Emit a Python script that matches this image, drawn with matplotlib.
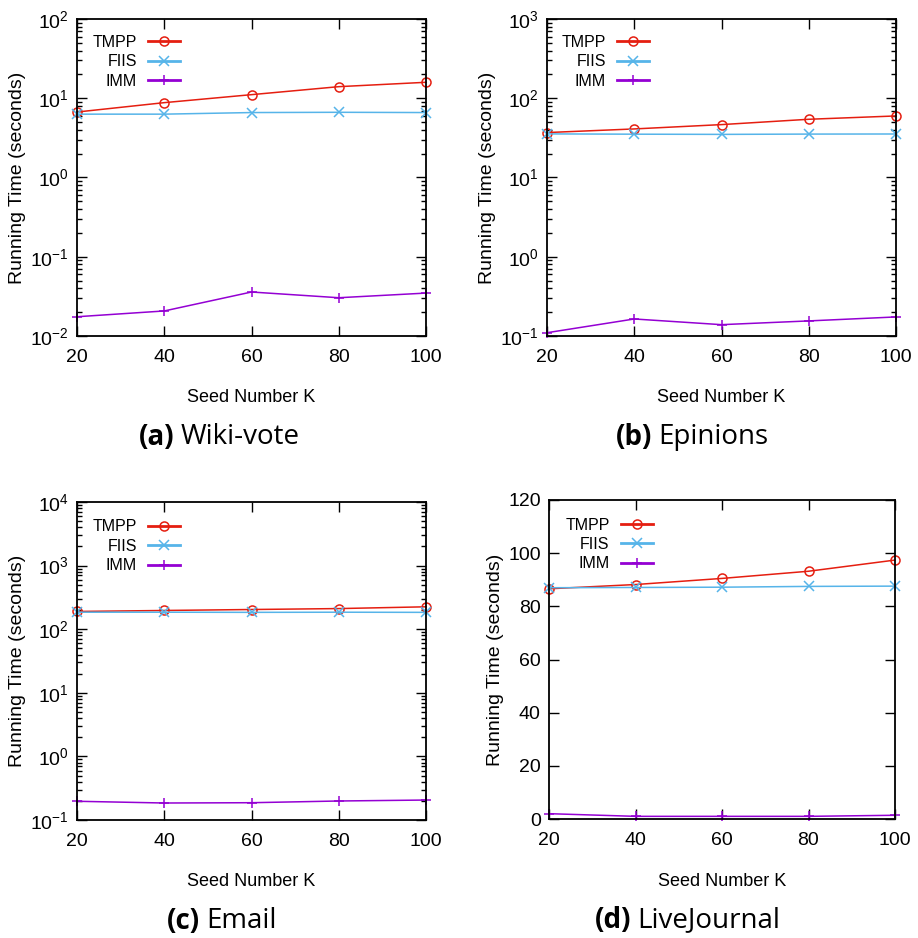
import numpy as np
import matplotlib
matplotlib.use("Agg")
import matplotlib.pyplot as plt
from matplotlib.ticker import LogLocator, NullFormatter, LogFormatterSciNotation

seeds = [20, 40, 60, 80, 100]
methods = ["TMPP", "FIIS", "IMM"]

wiki_tmpp = [6.7, 8.8, 11.1, 14.0, 15.9]
wiki_fiis = [6.3, 6.3, 6.6, 6.65, 6.6]
wiki_imm = [0.0175, 0.0207, 0.0359, 0.0304, 0.0348]

epin_tmpp = [36.9, 41.0, 46.5, 54.3, 59.8]
epin_fiis = [35.5, 35.2, 35.0, 35.3, 35.4]
epin_imm = [0.110, 0.164, 0.139, 0.155, 0.174]

email_tmpp = [190, 197, 204, 211, 225]
email_fiis = [185, 185, 184, 185, 184]
email_imm = [0.197, 0.185, 0.187, 0.199, 0.206]

lj_tmpp = [86.6, 88.2, 90.5, 93.2, 97.4]
lj_fiis = [87.0, 87.1, 87.2, 87.5, 87.6]
lj_imm = [2.0, 1.0, 1.0, 1.0, 1.4]

plt.rcParams['font.family'] = ['Liberation Sans', 'DejaVu Sans']
plt.rcParams['mathtext.default'] = 'regular'
plt.rcParams['axes.unicode_minus'] = False

W, H = 918, 938
fig = plt.figure(figsize=(W / 100, H / 100), dpi=100)

colors = {"TMPP": "#e51e10", "FIIS": "#56b4e9", "IMM": "#9400d3"}
markers = {"TMPP": "o", "FIIS": "x", "IMM": "+"}


def px_axes(l, t, r, b):
    return fig.add_axes([l / W, 1 - b / H, (r - l) / W, (b - t) / H])


def draw_panel(box, tmpp, fiis, imm, log, ylim, caption, cap_x, cap_y, xl_y, leg_anchor):
    ax = px_axes(*box)
    for name, vals in zip(methods, [tmpp, fiis, imm]):
        ax.plot(seeds, vals, color=colors[name], marker=markers[name], lw=1.1,
                ms=7 if name != "TMPP" else 6.5, mfc='none', mew=1.1, label=name, clip_on=False)
    ax.set_xlim(20, 100)
    ax.set_xticks(seeds)
    if log:
        ax.set_yscale('log')
        ax.yaxis.set_major_locator(LogLocator(base=10, numticks=20))
        ax.yaxis.set_major_formatter(LogFormatterSciNotation())
        ax.yaxis.set_minor_locator(LogLocator(base=10, subs=np.arange(2, 10), numticks=20))
        ax.yaxis.set_minor_formatter(NullFormatter())
    else:
        ax.set_yticks(np.arange(0, 121, 20))
    ax.set_ylim(*ylim)
    ax.tick_params(which='both', direction='in', top=True, right=True, width=1.0, labelsize=14, colors='black')
    ax.tick_params(which='major', length=7)
    ax.tick_params(which='minor', length=3.5)
    ax.tick_params(axis='x', which='major', pad=9)
    ax.tick_params(axis='y', which='major', pad=6)
    for s in ax.spines.values():
        s.set_linewidth(1.3)
    ax.set_ylabel("Running Time (seconds)", fontsize=14, labelpad=3)
    bx = box
    fig.text(((bx[0] + bx[2]) / 2) / W, 1 - xl_y / H, "Seed Number K", fontsize=13,
             ha='center', va='center')
    leg = ax.legend(loc='upper right', bbox_to_anchor=leg_anchor, frameon=False, markerfirst=False,
                    fontsize=11.5, handlelength=2.0, handletextpad=0.7, labelspacing=0.28,
                    borderpad=0, borderaxespad=0)
    for line in leg.get_lines():
        line.set_linewidth(2.0)

    # caption: bold tag and regular name, centred together
    tag, name = caption
    t1 = fig.text(0, 1 - cap_y / H, tag, fontsize=20, fontweight='bold', family='Open Sans',
                  ha='left', va='center')
    t2 = fig.text(0, 1 - cap_y / H, name, fontsize=20, family='Open Sans', ha='left', va='center')
    r = fig.canvas.get_renderer()
    w1 = t1.get_window_extent(r).width
    w2 = t2.get_window_extent(r).width
    gap = 6
    x0 = cap_x - (w1 + gap + w2) / 2
    t1.set_x(x0 / W)
    t2.set_x((x0 + w1 + gap) / W)
    return ax


draw_panel((77, 19, 426, 336), wiki_tmpp, wiki_fiis, wiki_imm, True, (1e-2, 1e2),
           ("(a)", "Wiki-vote"), 219, 437, 398, (0.295, 0.95))
draw_panel((547, 19, 896, 336), epin_tmpp, epin_fiis, epin_imm, True, (1e-1, 1e3),
           ("(b)", "Epinions"), 692, 437, 398, (0.292, 0.95))
draw_panel((77, 502, 426, 820), email_tmpp, email_fiis, email_imm, True, (1e-1, 1e4),
           ("(c)", "Email"), 222, 921, 881, (0.295, 0.945))
draw_panel((549, 500, 895, 819), lj_tmpp, lj_fiis, lj_imm, False, (0, 120),
           ("(d)", "LiveJournal"), 688, 920, 881, (0.30, 0.945))

fig.savefig("out.png", dpi=100)
